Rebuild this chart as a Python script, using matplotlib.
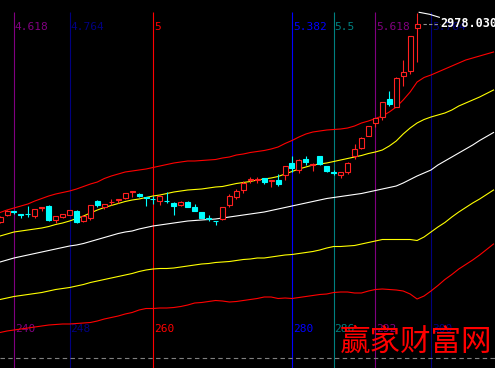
import matplotlib
matplotlib.use('Agg')
import matplotlib.pyplot as plt
from matplotlib.patches import Rectangle
import numpy as np

# K线数据 (bar 238 .. 298)
bars = np.arange(238, 299)
opens = [2582, 2596, 2604, 2598, 2599, 2594, 2610, 2615, 2586, 2592,
         2597, 2605, 2584, 2591, 2624, 2613, 2622, 2627, 2630, 2643,
         2638, 2632, 2629, 2625, 2625, 2621, 2617, 2622, 2612, 2602,
         2590, 2585, 2588, 2617, 2632, 2647, 2667, 2667, 2670, 2665,
         2667, 2677, 2701, 2686, 2708, 2697, 2714, 2694, 2682, 2677,
         2683, 2715, 2731, 2755, 2781, 2793, 2828, 2813, 2875, 2885,
         2971]
highs = [2594, 2606, 2604, 2598, 2614, 2608, 2612, 2616, 2594, 2599,
         2607, 2606, 2596, 2616, 2626, 2619, 2628, 2628, 2640, 2644,
         2640, 2632, 2634, 2636, 2642, 2622, 2624, 2624, 2618, 2603,
         2596, 2585, 2612, 2638, 2648, 2664, 2672, 2672, 2671, 2667,
         2679, 2694, 2714, 2708, 2714, 2701, 2715, 2695, 2686, 2682,
         2702, 2739, 2752, 2775, 2791, 2823, 2845, 2872, 2907, 2954,
         3001]
lows = [2580, 2594, 2598, 2590, 2592, 2591, 2604, 2585, 2580, 2591,
        2596, 2580, 2583, 2586, 2612, 2608, 2616, 2620, 2629, 2632,
        2632, 2614, 2618, 2616, 2620, 2596, 2614, 2612, 2604, 2590,
        2585, 2576, 2587, 2613, 2628, 2641, 2661, 2660, 2659, 2653,
        2655, 2667, 2683, 2681, 2696, 2684, 2697, 2683, 2676, 2671,
        2679, 2709, 2729, 2754, 2773, 2787, 2814, 2812, 2854, 2878,
        2903]
closes = [2592, 2604, 2603, 2597, 2598, 2608, 2612, 2586, 2594, 2598,
          2606, 2582, 2595, 2616, 2616, 2618, 2623, 2628, 2640, 2644,
          2635, 2631, 2628, 2635, 2624, 2615, 2623, 2613, 2605, 2591,
          2589, 2584, 2612, 2634, 2644, 2661, 2668, 2668, 2663, 2667,
          2659, 2694, 2691, 2707, 2703, 2698, 2698, 2684, 2681, 2682,
          2701, 2729, 2751, 2774, 2790, 2822, 2819, 2871, 2882, 2954,
          2978.03]

# 通道线 (bar 238 .. 309)
band_bars = np.arange(238, 310)
upper2 = [2601, 2606, 2610, 2614, 2618, 2624, 2629, 2634, 2638, 2641,
          2644, 2648, 2653, 2658, 2662, 2669, 2674, 2678, 2682, 2684,
          2686, 2688, 2691, 2694, 2697, 2700, 2702, 2704, 2704, 2705,
          2706, 2707, 2710, 2712, 2716, 2718, 2721, 2723, 2725, 2728,
          2732, 2739, 2745, 2752, 2758, 2762, 2764, 2766, 2767, 2768,
          2770, 2774, 2780, 2784, 2789, 2794, 2802, 2812, 2826, 2842,
          2862, 2871, 2876, 2882, 2888, 2894, 2900, 2906, 2910, 2914,
          2918, 2922]
upper1 = [2554, 2558, 2562, 2564, 2566, 2568, 2570, 2573, 2577, 2580,
          2584, 2589, 2594, 2600, 2606, 2611, 2615, 2619, 2623, 2626,
          2628, 2631, 2634, 2636, 2639, 2642, 2644, 2646, 2647, 2648,
          2650, 2652, 2653, 2656, 2659, 2661, 2663, 2666, 2668, 2670,
          2673, 2678, 2683, 2688, 2692, 2696, 2698, 2700, 2703, 2706,
          2709, 2712, 2715, 2719, 2722, 2726, 2734, 2744, 2758, 2770,
          2780, 2787, 2792, 2796, 2800, 2806, 2814, 2820, 2826, 2832,
          2839, 2846]
middle = [2502, 2506, 2510, 2513, 2516, 2519, 2522, 2525, 2528, 2531,
          2534, 2536, 2539, 2543, 2547, 2551, 2555, 2559, 2562, 2564,
          2568, 2571, 2574, 2576, 2578, 2580, 2582, 2584, 2585, 2586,
          2587, 2588, 2590, 2592, 2594, 2596, 2598, 2600, 2602, 2605,
          2608, 2611, 2614, 2617, 2620, 2623, 2626, 2629, 2631, 2633,
          2635, 2637, 2639, 2642, 2645, 2648, 2651, 2654, 2660, 2667,
          2674, 2680, 2686, 2696, 2704, 2712, 2720, 2728, 2736, 2745,
          2753, 2761]
lower1 = [2427, 2430, 2433, 2435, 2437, 2439, 2441, 2444, 2447, 2449,
          2451, 2454, 2457, 2461, 2464, 2467, 2470, 2473, 2476, 2479,
          2483, 2486, 2488, 2489, 2489, 2490, 2492, 2494, 2496, 2498,
          2499, 2501, 2502, 2503, 2505, 2507, 2508, 2510, 2510, 2512,
          2514, 2516, 2517, 2519, 2521, 2523, 2526, 2530, 2533, 2533,
          2534, 2535, 2538, 2541, 2544, 2547, 2547, 2547, 2547, 2547,
          2545, 2552, 2562, 2572, 2581, 2592, 2602, 2611, 2620, 2628,
          2637, 2646]
lower2 = [2361, 2364, 2366, 2368, 2370, 2372, 2374, 2376, 2377, 2378,
          2378, 2379, 2380, 2381, 2384, 2388, 2391, 2394, 2398, 2401,
          2406, 2409, 2409, 2410, 2410, 2411, 2413, 2416, 2420, 2421,
          2423, 2425, 2424, 2422, 2423, 2425, 2427, 2429, 2432, 2432,
          2429, 2430, 2429, 2431, 2433, 2435, 2437, 2438, 2441, 2442,
          2442, 2440, 2440, 2444, 2447, 2448, 2447, 2446, 2444, 2438,
          2428, 2434, 2444, 2455, 2467, 2477, 2488, 2497, 2506, 2516,
          2527, 2538]

# 斐波那契时间周期线
fib_bars = [240, 248, 260, 280, 286, 292, 300]
fib_ratios = ['4.618', '4.764', '5', '5.382', '5.5', '5.618', '5.764']
fib_colors = ['#800080', '#000080', '#ff0000', '#0000ff', '#008080', '#800080', '#000080']

last_price = 2978.03
flag_x = [298.3, 299.8, 301.2]
flag_y = [3001.4, 2997.4, 2991.4]

RED = '#ff2020'
CYAN = '#00ffff'

fig = plt.figure(figsize=(4.95, 3.68), dpi=100, facecolor='black')
ax = fig.add_axes([0, 0, 1, 1])
ax.set_facecolor('black')
ax.set_xlim(237.99, 309.21)
ax.set_ylim(2290, 3026)
ax.set_xticks([])
ax.set_yticks([])
for s in ax.spines.values():
    s.set_visible(False)

# 周期竖线和标签
ax.vlines(fib_bars, 2290, 3002, colors=fib_colors, lw=0.8, zorder=1)
for b, r, c in zip(fib_bars, fib_ratios, fib_colors):
    ax.text(b + 0.12, 2971, r, color=c, fontsize=8, family='DejaVu Sans Mono',
            ha='left', va='center', zorder=1)
    ax.text(b + 0.12, 2368, str(b), color=c, fontsize=8, family='DejaVu Sans Mono',
            ha='left', va='center', zorder=1)

# 通道线
ax.plot(band_bars, upper2, color='#ff0000', lw=0.8, zorder=2)
ax.plot(band_bars, upper1, color='#ffff00', lw=0.8, zorder=2)
ax.plot(band_bars, middle, color='#ffffff', lw=0.8, zorder=2)
ax.plot(band_bars, lower1, color='#ffff00', lw=0.8, zorder=2)
ax.plot(band_bars, lower2, color='#ff0000', lw=0.8, zorder=2)

# K线
w = 0.72
for b, o, h, l, c in zip(bars, opens, highs, lows, closes):
    up = c >= o
    col = RED if up else CYAN
    ax.vlines(b, l, h, colors=col, lw=0.8, zorder=3)
    bottom = min(o, c)
    height = max(abs(c - o), 0.3)
    ax.add_patch(Rectangle((b - w / 2, bottom), w, height,
                           facecolor='black' if up else CYAN,
                           edgecolor=col, lw=0.8, zorder=4))

# 最新价标记
ax.plot(flag_x, flag_y, color='white', lw=0.8, zorder=5)
ax.plot([298.8, 301.3], [last_price, last_price], color='#909090', lw=0.8,
        ls=(0, (3, 2)), zorder=5)
ax.text(301.3, last_price, '%.4f' % last_price, color='white', fontsize=8.5,
        family='DejaVu Sans Mono', fontweight='bold', ha='left', va='center', zorder=6)

# 底部虚线
ax.axhline(2310, color='#808080', lw=0.8, ls=(0, (4, 3)), zorder=1)

# 水印
fig.text(340 / 495, 1 - 342 / 368, '赢家财富网', color='#ff0000', fontsize=22,
         family=['Noto Sans CJK SC', 'DejaVu Sans'], ha='left', va='center')

fig.savefig('out.png', dpi=100, facecolor='black')
